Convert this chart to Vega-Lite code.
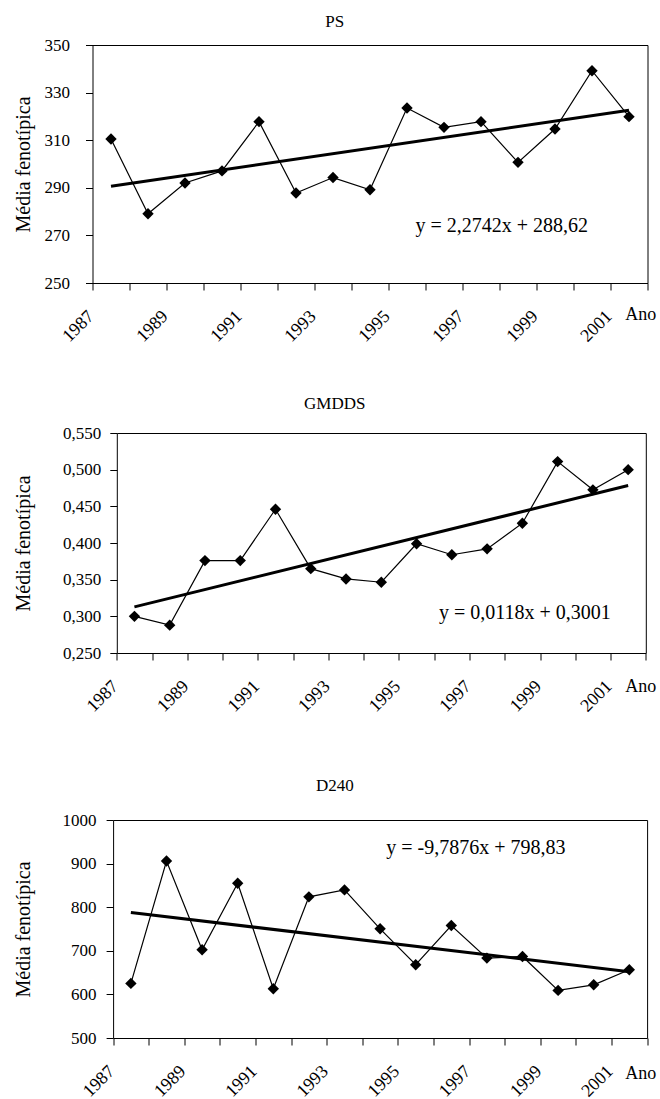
{
  "$schema": "https://vega.github.io/schema/vega-lite/v6.json",
  "padding": {"left": 13.5, "top": 13, "right": 0, "bottom": 0},
  "background": "white",
  "config": {
    "font": "Liberation Serif",
    "view": {"stroke": null},
    "axis": {
      "grid": false,
      "domainColor": "black",
      "tickColor": "black",
      "labelColor": "black",
      "titleColor": "black",
      "labelFont": "Liberation Serif",
      "titleFont": "Liberation Serif",
      "labelFontSize": 17,
      "titleFontWeight": "normal",
      "tickSize": 7,
      "domainWidth": 1,
      "tickWidth": 1
    },
    "title": {"font": "Liberation Serif", "fontWeight": "normal", "fontSize": 17, "color": "black", "frame": "bounds", "anchor": "middle", "baseline": "alphabetic"},
    "text": {"font": "Liberation Serif"}
  },
  "datasets": {
    "ps": [
      {"year": 1987, "v": 310.5}, {"year": 1988, "v": 279.1}, {"year": 1989, "v": 292.0},
      {"year": 1990, "v": 297.1}, {"year": 1991, "v": 317.8}, {"year": 1992, "v": 287.8},
      {"year": 1993, "v": 294.3}, {"year": 1994, "v": 289.2}, {"year": 1995, "v": 323.5},
      {"year": 1996, "v": 315.4}, {"year": 1997, "v": 317.8}, {"year": 1998, "v": 300.7},
      {"year": 1999, "v": 314.7}, {"year": 2000, "v": 339.2}, {"year": 2001, "v": 319.9}
    ],
    "gmdds": [
      {"year": 1987, "v": 0.300}, {"year": 1988, "v": 0.288}, {"year": 1989, "v": 0.376},
      {"year": 1990, "v": 0.376}, {"year": 1991, "v": 0.446}, {"year": 1992, "v": 0.365},
      {"year": 1993, "v": 0.351}, {"year": 1994, "v": 0.3465}, {"year": 1995, "v": 0.399},
      {"year": 1996, "v": 0.384}, {"year": 1997, "v": 0.392}, {"year": 1998, "v": 0.427},
      {"year": 1999, "v": 0.511}, {"year": 2000, "v": 0.4725}, {"year": 2001, "v": 0.500}
    ],
    "d240": [
      {"year": 1987, "v": 625.2}, {"year": 1988, "v": 906.0}, {"year": 1989, "v": 702.3},
      {"year": 1990, "v": 855.0}, {"year": 1991, "v": 613.0}, {"year": 1992, "v": 823.7},
      {"year": 1993, "v": 839.7}, {"year": 1994, "v": 750.4}, {"year": 1995, "v": 668.0},
      {"year": 1996, "v": 758.0}, {"year": 1997, "v": 683.2}, {"year": 1998, "v": 687.0},
      {"year": 1999, "v": 609.2}, {"year": 2000, "v": 622.0}, {"year": 2001, "v": 656.5}
    ],
    "eq_ps": [{"year": 1997.56, "v": 274, "label": "y = 2,2742x + 288,62"}],
    "eq_gmdds": [{"year": 1998.07, "v": 0.3045, "label": "y = 0,0118x + 0,3001"}],
    "eq_d240": [{"year": 1996.69, "v": 936, "label": "y = -9,7876x + 798,83"}]
  },
  "columns": 1,
  "align": "none",
  "spacing": {"row": 60, "column": 0},
  "concat": [
    {
      "columns": 1,
      "align": "none",
      "spacing": {"row": 49, "column": 0},
      "concat": [
        {
          "title": {"text": "PS", "offset": 5},
          "width": 555,
          "height": 238,
          "data": {"name": "ps"},
          "resolve": {"axis": {"x": "independent", "y": "independent"}},
          "layer": [
            {
              "mark": {"type": "line", "color": "black", "strokeWidth": 1.2},
              "encoding": {
                "x": {
                  "field": "year", "type": "quantitative",
                  "scale": {"domain": [1986.5, 2001.5], "range": [0, 555], "nice": false, "zero": false},
                  "axis": {
                    "values": [1986.5, 1987.5, 1988.5, 1989.5, 1990.5, 1991.5, 1992.5, 1993.5, 1994.5, 1995.5, 1996.5, 1997.5, 1998.5, 1999.5, 2000.5, 2001.5],
                    "labelExpr": "(datum.value + 0.5) % 2 == 1 ? '' + (datum.value + 0.5) : ''",
                    "labelAngle": -45, "labelAlign": "right", "labelBaseline": "top",
                    "labelFontSize": 18, "labelOffset": -8, "labelPadding": 17,
                    "labelOverlap": false, "labelFlush": false, "labelBound": false,
                    "title": "Ano", "titleAngle": 0, "titleAlign": "left", "titleBaseline": "alphabetic",
                    "titleX": 532.3, "titleY": 36, "titleFontSize": 18
                  }
                },
                "y": {
                  "field": "v", "type": "quantitative",
                  "scale": {"domain": [250, 350], "nice": false, "zero": false},
                  "axis": {
                    "values": [250, 270, 290, 310, 330, 350],
                    "labelExpr": "'' + datum.value",
                    "labelPadding": 16,
                    "title": "Média   fenotípica", "titleFontSize": 20, "titleX": -68.7, "titleBaseline": "middle"
                  }
                }
              }
            },
            {
              "mark": {"type": "point", "shape": "diamond", "filled": true, "color": "black", "opacity": 1, "size": 130},
              "encoding": {
                "x": {"field": "year", "type": "quantitative", "axis": null},
                "y": {"field": "v", "type": "quantitative", "axis": null}
              }
            },
            {
              "transform": [{"regression": "v", "on": "year"}],
              "mark": {"type": "line", "color": "black", "strokeWidth": 3},
              "encoding": {
                "x": {"field": "year", "type": "quantitative", "axis": {"orient": "top", "labels": false, "ticks": false, "title": null}},
                "y": {"field": "v", "type": "quantitative", "axis": {"orient": "right", "labels": false, "ticks": false, "title": null}}
              }
            },
            {
              "data": {"name": "eq_ps"},
              "mark": {"type": "text", "fontSize": 20, "align": "center", "baseline": "middle", "color": "black"},
              "encoding": {
                "x": {"field": "year", "type": "quantitative", "axis": null},
                "y": {"field": "v", "type": "quantitative", "axis": null},
                "text": {"field": "label"}
              }
            }
          ]
        },
        {
          "title": {"text": "GMDDS", "offset": 11},
          "width": 555,
          "height": 220,
          "data": {"name": "gmdds"},
          "resolve": {"axis": {"x": "independent", "y": "independent"}},
          "layer": [
            {
              "mark": {"type": "line", "color": "black", "strokeWidth": 1.2},
              "encoding": {
                "x": {
                  "field": "year", "type": "quantitative",
                  "scale": {"domain": [1986.5, 2001.5], "range": [24.3, 553.3], "nice": false, "zero": false},
                  "axis": {
                    "values": [1986.5, 1987.5, 1988.5, 1989.5, 1990.5, 1991.5, 1992.5, 1993.5, 1994.5, 1995.5, 1996.5, 1997.5, 1998.5, 1999.5, 2000.5, 2001.5],
                    "labelExpr": "(datum.value + 0.5) % 2 == 1 ? '' + (datum.value + 0.5) : ''",
                    "labelAngle": -45, "labelAlign": "right", "labelBaseline": "top",
                    "labelFontSize": 18, "labelOffset": -8, "labelPadding": 17,
                    "labelOverlap": false, "labelFlush": false, "labelBound": false,
                    "title": "Ano", "titleAngle": 0, "titleAlign": "left", "titleBaseline": "alphabetic",
                    "titleX": 532.3, "titleY": 38, "titleFontSize": 18
                  }
                },
                "y": {
                  "field": "v", "type": "quantitative",
                  "scale": {"domain": [0.25, 0.55], "nice": false, "zero": false},
                  "axis": {
                    "values": [0.25, 0.3, 0.35, 0.4, 0.45, 0.5, 0.55],
                    "labelExpr": "replace(format(datum.value, '.3f'), '.', ',')",
                    "labelPadding": 9,
                    "offset": -24.3,
                    "title": "Média   fenotípica", "titleFontSize": 20, "titleX": -93, "titleBaseline": "middle"
                  }
                }
              }
            },
            {
              "mark": {"type": "point", "shape": "diamond", "filled": true, "color": "black", "opacity": 1, "size": 130},
              "encoding": {
                "x": {"field": "year", "type": "quantitative", "axis": null},
                "y": {"field": "v", "type": "quantitative", "axis": null}
              }
            },
            {
              "transform": [{"regression": "v", "on": "year"}],
              "mark": {"type": "line", "color": "black", "strokeWidth": 3},
              "encoding": {
                "x": {"field": "year", "type": "quantitative", "axis": {"orient": "top", "labels": false, "ticks": false, "title": null}},
                "y": {"field": "v", "type": "quantitative", "axis": {"orient": "right", "labels": false, "ticks": false, "title": null, "offset": -1.7}}
              }
            },
            {
              "data": {"name": "eq_gmdds"},
              "mark": {"type": "text", "fontSize": 20, "align": "center", "baseline": "middle", "color": "black"},
              "encoding": {
                "x": {"field": "year", "type": "quantitative", "axis": null},
                "y": {"field": "v", "type": "quantitative", "axis": null},
                "text": {"field": "label"}
              }
            }
          ]
        }
      ]
    },
    {
      "title": {"text": "D240", "offset": 16.5},
      "width": 555,
      "height": 218,
      "data": {"name": "d240"},
      "resolve": {"axis": {"x": "independent", "y": "independent"}},
      "layer": [
        {
          "mark": {"type": "line", "color": "black", "strokeWidth": 1.2},
          "encoding": {
            "x": {
              "field": "year", "type": "quantitative",
              "scale": {"domain": [1986.5, 2001.5], "range": [20.6, 554.6], "nice": false, "zero": false},
              "axis": {
                "values": [1986.5, 1987.5, 1988.5, 1989.5, 1990.5, 1991.5, 1992.5, 1993.5, 1994.5, 1995.5, 1996.5, 1997.5, 1998.5, 1999.5, 2000.5, 2001.5],
                "labelExpr": "(datum.value + 0.5) % 2 == 1 ? '' + (datum.value + 0.5) : ''",
                "labelAngle": -45, "labelAlign": "right", "labelBaseline": "top",
                "labelFontSize": 18, "labelOffset": -8, "labelPadding": 17,
                "labelOverlap": false, "labelFlush": false, "labelBound": false,
                "title": "Ano", "titleAngle": 0, "titleAlign": "left", "titleBaseline": "alphabetic",
                "titleX": 532.3, "titleY": 40, "titleFontSize": 18
              }
            },
            "y": {
              "field": "v", "type": "quantitative",
              "scale": {"domain": [500, 1000], "nice": false, "zero": false},
              "axis": {
                "values": [500, 600, 700, 800, 900, 1000],
                "labelExpr": "'' + datum.value",
                "labelPadding": 10,
                "offset": -20.6,
                "title": "Média   fenotípica", "titleFontSize": 20, "titleX": -89.3, "titleBaseline": "middle"
              }
            }
          }
        },
        {
          "mark": {"type": "point", "shape": "diamond", "filled": true, "color": "black", "opacity": 1, "size": 130},
          "encoding": {
            "x": {"field": "year", "type": "quantitative", "axis": null},
            "y": {"field": "v", "type": "quantitative", "axis": null}
          }
        },
        {
          "transform": [{"regression": "v", "on": "year"}],
          "mark": {"type": "line", "color": "black", "strokeWidth": 3},
          "encoding": {
            "x": {"field": "year", "type": "quantitative", "axis": {"orient": "top", "labels": false, "ticks": false, "title": null}},
            "y": {"field": "v", "type": "quantitative", "axis": {"orient": "right", "labels": false, "ticks": false, "title": null, "offset": -0.4}}
          }
        },
        {
          "data": {"name": "eq_d240"},
          "mark": {"type": "text", "fontSize": 20, "align": "center", "baseline": "middle", "color": "black"},
          "encoding": {
            "x": {"field": "year", "type": "quantitative", "axis": null},
            "y": {"field": "v", "type": "quantitative", "axis": null},
            "text": {"field": "label"}
          }
        }
      ]
    }
  ]
}
